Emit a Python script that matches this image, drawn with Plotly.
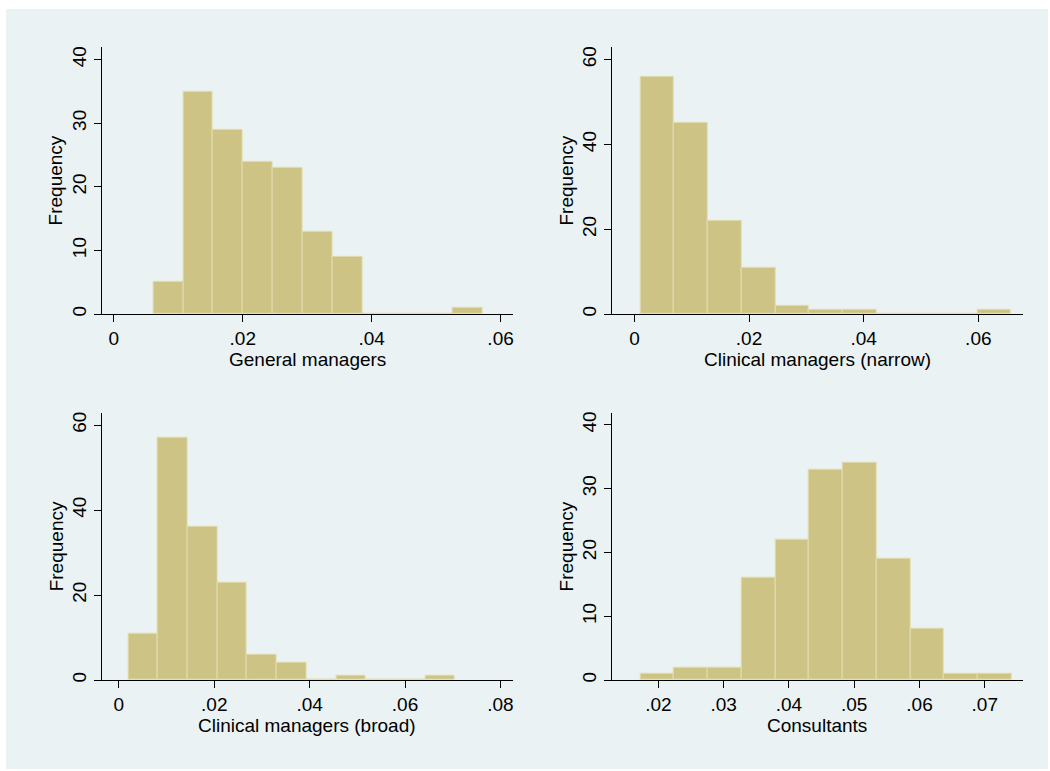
import plotly.graph_objects as go

# ---------------- data ----------------
gm_start = 0.0061
gm_width = 0.004645
gm_counts = [5, 35, 29, 24, 23, 13, 9, 0, 0, 0, 1]

cmn_start = 0.00105
cmn_width = 0.00588
cmn_counts = [56, 45, 22, 11, 2, 1, 1, 0, 0, 0, 1]

cmb_start = 0.00195
cmb_width = 0.00623
cmb_counts = [11, 57, 36, 23, 6, 4, 0, 1, 0, 0, 1]

con_start = 0.01724
con_width = 0.00517
con_counts = [1, 2, 2, 16, 22, 33, 34, 19, 8, 1, 1]

titles = ["General managers", "Clinical managers (narrow)",
          "Clinical managers (broad)", "Consultants"]

x_ticks = [
    [0, 0.02, 0.04, 0.06],
    [0, 0.02, 0.04, 0.06],
    [0, 0.02, 0.04, 0.06, 0.08],
    [0.02, 0.03, 0.04, 0.05, 0.06, 0.07],
]
x_ticklabels = [
    ["0", ".02", ".04", ".06"],
    ["0", ".02", ".04", ".06"],
    ["0", ".02", ".04", ".06", ".08"],
    [".02", ".03", ".04", ".05", ".06", ".07"],
]
y_ticks = [
    [0, 10, 20, 30, 40],
    [0, 20, 40, 60],
    [0, 20, 40, 60],
    [0, 10, 20, 30, 40],
]

x_ranges = [[-0.0019, 0.0619], [-0.00396, 0.0678], [-0.00362, 0.0826], [0.01285, 0.07586]]
y_ranges = [[0, 42.0], [0, 63.0], [0, 62.9], [0, 41.9]]

panels = [
    (gm_start, gm_width, gm_counts),
    (cmn_start, cmn_width, cmn_counts),
    (cmb_start, cmb_width, cmb_counts),
    (con_start, con_width, con_counts),
]

# ---------------- layout geometry (pixels) ----------------
W, H = 1050, 771
boxes = [  # x0, x1, y0(top), y1(bottom) in pixels
    (101.7, 513.3, 46.0, 314.3),
    (612.3, 1024.0, 46.0, 314.3),
    (101.7, 513.3, 413.3, 681.7),
    (612.3, 1024.0, 413.3, 681.7),
]

BG = "#EAF2F3"
BAR = "#CCC384"
BAR_LINE = "#E2DDB0"
FONT = "Liberation Sans, Arial, sans-serif"
FS = 19

fig = go.Figure()
layout = dict(
    width=W, height=H,
    margin=dict(l=0, r=0, t=0, b=0),
    paper_bgcolor="white",
    plot_bgcolor="white",
    showlegend=False,
    bargap=0,
    font=dict(family=FONT, size=FS, color="black"),
)

shapes = [dict(type="rect", xref="paper", yref="paper",
               x0=6 / W, x1=1049 / W, y0=0, y1=1 - 8 / H,
               fillcolor=BG, line=dict(width=0), layer="below")]
annotations = []

for i, ((start, width, counts), (x0, x1, yt, yb)) in enumerate(zip(panels, boxes)):
    n = i + 1
    xa = "x" if n == 1 else f"x{n}"
    ya = "y" if n == 1 else f"y{n}"
    centers = [start + width * (k + 0.5) for k in range(len(counts))]
    fig.add_trace(go.Bar(
        x=centers, y=counts, width=[width] * len(counts),
        marker=dict(color=BAR, line=dict(color=BAR_LINE, width=1)),
        xaxis=xa, yaxis=ya, hoverinfo="x+y",
    ))
    xkey = "xaxis" if n == 1 else f"xaxis{n}"
    ykey = "yaxis" if n == 1 else f"yaxis{n}"
    layout[xkey] = dict(
        domain=[x0 / W, x1 / W], anchor=ya, range=x_ranges[i],
        tickmode="array", tickvals=x_ticks[i], ticktext=x_ticklabels[i],
        showgrid=False, zeroline=False,
        showline=True, linecolor="black", linewidth=1,
        ticks="outside", ticklen=7, tickcolor="black", tickwidth=1,
        ticklabelstandoff=0,
        tickfont=dict(size=FS, family=FONT, color="black"),
    )
    layout[ykey] = dict(
        domain=[1 - yb / H, 1 - yt / H], anchor=xa, range=y_ranges[i],
        tickmode="array", tickvals=y_ticks[i],
        showgrid=True, gridcolor=BG, gridwidth=1.5, zeroline=False,
        showline=True, linecolor="black", linewidth=1,
        ticks="outside", ticklen=7, tickcolor="black", tickwidth=1,
        tickangle=-90,
        tickfont=dict(size=FS, family=FONT, color="black"),
    )
    # x axis title
    annotations.append(dict(
        text=titles[i], xref="paper", yref="paper",
        x=((x0 + x1) / 2) / W, y=1 - (yb + 33) / H,
        xanchor="center", yanchor="top", showarrow=False,
        font=dict(size=FS, family=FONT, color="black"),
    ))
    # y axis title
    annotations.append(dict(
        text="Frequency", xref="paper", yref="paper", textangle=-90,
        x=(x0 - 45.7) / W, y=1 - ((yt + yb) / 2) / H,
        xanchor="center", yanchor="middle", showarrow=False,
        font=dict(size=FS, family=FONT, color="black"),
    ))

layout["shapes"] = shapes
layout["annotations"] = annotations
fig.update_layout(**layout)
fig.write_html(
    "out.html",
    config={"displayModeBar": False},
    post_script="document.body.style.margin='0';document.body.style.overflow='hidden';",
)
